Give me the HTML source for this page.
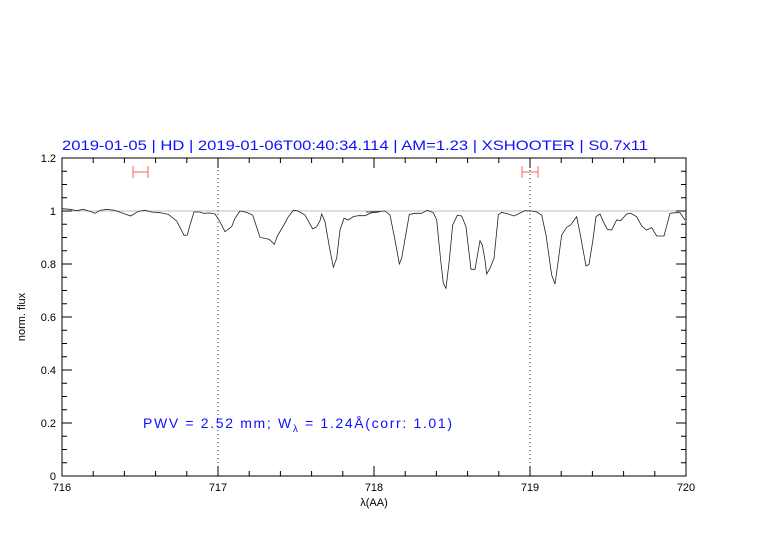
<!DOCTYPE html>
<html><head><meta charset="utf-8"><style>body{margin:0;background:#fff}svg{display:block}</style></head><body>
<svg width="782" height="542" xmlns="http://www.w3.org/2000/svg" font-family="Liberation Sans, sans-serif">
<rect width="782" height="542" fill="#fff"/>
<text x="62" y="150" fill="#1010ff" font-size="14" textLength="586" lengthAdjust="spacingAndGlyphs">2019-01-05 | HD | 2019-01-06T00:40:34.114 | AM=1.23 | XSHOOTER | S0.7x11</text>
<line x1="62" y1="211" x2="686" y2="211" stroke="#b8a0a0" stroke-width="0.8"/>
<line x1="218" y1="158" x2="218" y2="476" stroke="#000" stroke-dasharray="1,3" stroke-width="0.8"/>
<line x1="530" y1="158" x2="530" y2="476" stroke="#000" stroke-dasharray="1,3" stroke-width="0.8"/>
<g stroke="#ff6060" stroke-width="1" fill="none">
<path d="M133 172H148M133 166V178M148 166V178"/>
<path d="M522 172H538M522 166V178M538 166V178"/>
</g>
<g transform="translate(60,150) scale(0.333333)" fill="none" stroke="#222">
<polyline vector-effect="non-scaling-stroke" stroke-width="0.8" points="6,176 30,178 50,182 70,178 90,184 105,190 120,181 140,178 165,181 190,190 212,198 235,184 255,181 275,186 300,188 325,193 350,213 365,242 372,256 382,255 390,225 402,186 420,186 430,190 450,189 465,192 478,212 495,245 515,230 525,205 540,183 560,187 578,195 600,262 615,265 628,268 643,283 652,258 670,228 685,200 700,181 712,182 735,195 758,237 770,230 780,212 785,192 795,215 808,290 820,352 830,325 840,240 852,205 865,210 880,200 895,197 915,197 935,188 958,186"/>
</g>
<g transform="translate(370,150) scale(0.333333)" fill="none" stroke="#222">
<polyline vector-effect="non-scaling-stroke" stroke-width="0.8" points="-12,186 0,186 20,185 45,183 60,195 75,270 88,342 95,325 108,250 118,193 135,190 155,190 172,181 190,188 200,210 212,330 220,400 228,415 238,330 248,225 262,196 275,198 288,230 303,358 315,358 330,272 337,285 345,330 350,372 360,355 372,325 385,195 395,187 415,192 432,198 448,190 465,182 485,183 500,186 515,195 528,255 545,375 555,402 565,330 575,255 590,232 602,225 620,200 632,260 648,348 657,343 668,275 678,200 690,192 700,215 712,238 725,240 740,210 752,212 770,192 782,190 800,200 815,228 830,240 845,233 860,258 882,258 900,190 915,188 930,188 945,210"/>
</g>
<rect x="62" y="158" width="624" height="318" fill="none" stroke="#000" stroke-width="1"/>
<g stroke="#000" stroke-width="1">
<path d="M62 476v-10M218 476v-10M374 476v-10M530 476v-10M62 158v10M218 158v10M374 158v10M530 158v10
M93.2 476v-5M124.4 476v-5M155.6 476v-5M186.8 476v-5M249.2 476v-5M280.4 476v-5M311.6 476v-5M342.8 476v-5M405.2 476v-5M436.4 476v-5M467.6 476v-5M498.8 476v-5M561.2 476v-5M592.4 476v-5M623.6 476v-5M654.8 476v-5
M93.2 158v5M124.4 158v5M155.6 158v5M186.8 158v5M249.2 158v5M280.4 158v5M311.6 158v5M342.8 158v5M405.2 158v5M436.4 158v5M467.6 158v5M498.8 158v5M561.2 158v5M592.4 158v5M623.6 158v5M654.8 158v5
M62 423h10M62 370h10M62 317h10M62 264h10M62 211h10M686 423h-10M686 370h-10M686 317h-10M686 264h-10M686 211h-10
M62 462.75h5M62 449.5h5M62 436.25h5M62 409.75h5M62 396.5h5M62 383.25h5M62 356.75h5M62 343.5h5M62 330.25h5M62 303.75h5M62 290.5h5M62 277.25h5M62 250.75h5M62 237.5h5M62 224.25h5M62 197.75h5M62 184.5h5M62 171.25h5
M686 462.75h-5M686 449.5h-5M686 436.25h-5M686 409.75h-5M686 396.5h-5M686 383.25h-5M686 356.75h-5M686 343.5h-5M686 330.25h-5M686 303.75h-5M686 290.5h-5M686 277.25h-5M686 250.75h-5M686 237.5h-5M686 224.25h-5M686 197.75h-5M686 184.5h-5M686 171.25h-5"/>
</g>
<g font-size="11" fill="#000" text-anchor="end">
<text x="56" y="480">0</text><text x="56" y="427">0.2</text><text x="56" y="374">0.4</text><text x="56" y="321">0.6</text><text x="56" y="268">0.8</text><text x="56" y="215">1</text><text x="56" y="162">1.2</text>
</g>
<g font-size="11" fill="#000" text-anchor="middle">
<text x="62" y="491">716</text><text x="218" y="491">717</text><text x="374" y="491">718</text><text x="530" y="491">719</text><text x="686" y="491">720</text>
<text x="374" y="506">λ(AA)</text>
<text transform="translate(25,317) rotate(-90)">norm. flux</text>
</g>
<text x="143" y="428" fill="#1010ff" font-size="14" textLength="309" lengthAdjust="spacing">PWV  =  2.52  mm;  W<tspan font-size="10" dy="4">λ</tspan><tspan dy="-4">  =  1.24Å(corr: 1.01)</tspan></text>
</svg>
</body></html>
